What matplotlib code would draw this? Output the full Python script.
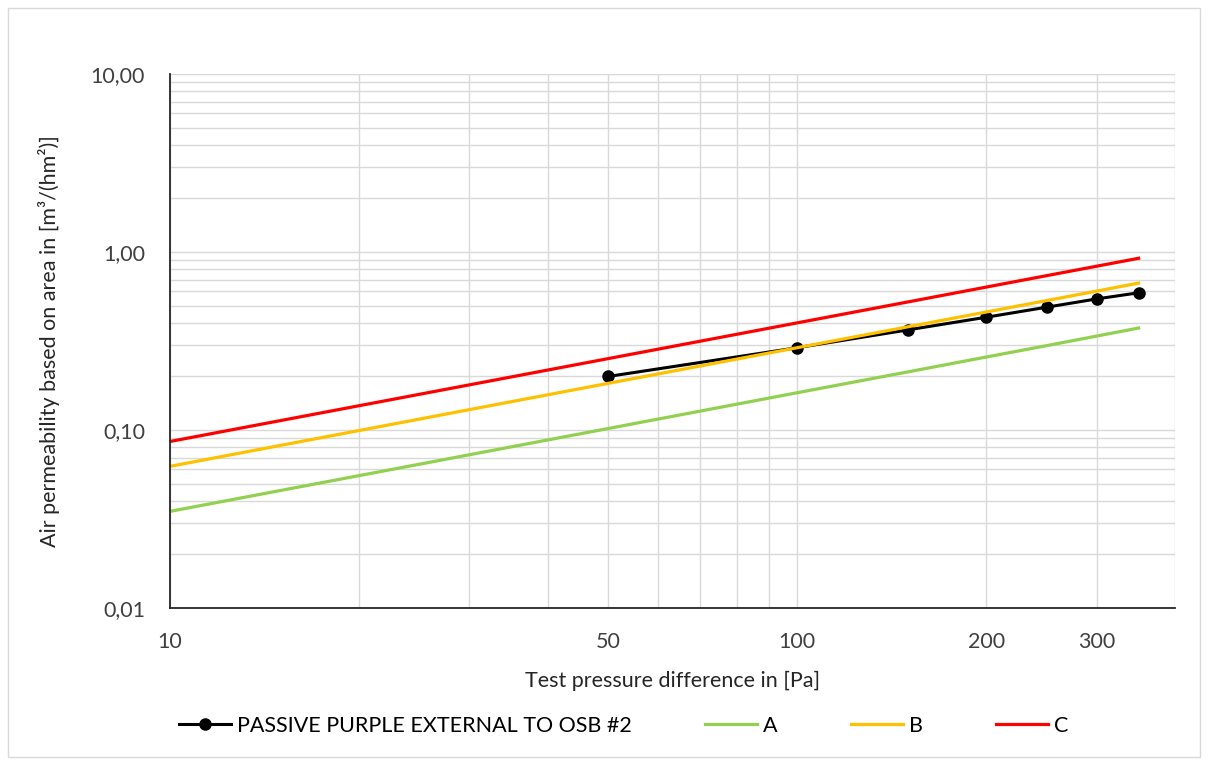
import matplotlib
matplotlib.use("Agg")
import matplotlib.pyplot as plt
from matplotlib.ticker import FixedLocator, FixedFormatter, LogLocator, NullFormatter
from matplotlib.patches import Rectangle

plt.rcParams["font.family"] = ["Lato", "DejaVu Sans"]

# measured sample
pressure = [50, 100, 150, 200, 250, 300, 350]
measured = [0.20, 0.29, 0.365, 0.43, 0.49, 0.545, 0.59]

# class limit lines
class_pressure = [10, 50, 100, 150, 200, 250, 300, 350]
class_a = [0.0349, 0.102, 0.162, 0.212, 0.257, 0.298, 0.337, 0.374]
class_b = [0.0625, 0.183, 0.29, 0.38, 0.46, 0.534, 0.603, 0.669]
class_c = [0.0862, 0.252, 0.40, 0.524, 0.635, 0.737, 0.832, 0.922]

x_ticks = [10, 50, 100, 200, 300]
x_labels = ["10", "50", "100", "200", "300"]
y_ticks = [0.01, 0.1, 1, 10]
y_labels = ["0,01", "0,10", "1,00", "10,00"]

fig = plt.figure(figsize=(12.08, 7.65), dpi=100)
ax = fig.add_axes([170 / 1208, 1 - 608 / 765, 1005 / 1208, 534 / 765])

ax.plot(pressure, measured, color="black", lw=2.2, marker="o", ms=8,
        label="PASSIVE PURPLE EXTERNAL TO OSB #2")
ax.plot(class_pressure, class_a, color="#92D050", lw=2.3, label="A")
ax.plot(class_pressure, class_b, color="#FFC000", lw=2.3, label="B")
ax.plot(class_pressure, class_c, color="#FF0000", lw=2.3, label="C")

ax.set_xscale("log")
ax.set_yscale("log")
ax.set_xlim(10, 400)
ax.set_ylim(0.01, 10)

ax.xaxis.set_major_locator(FixedLocator(x_ticks))
ax.xaxis.set_major_formatter(FixedFormatter(x_labels))
ax.xaxis.set_minor_locator(LogLocator(base=10, subs=range(1, 10)))
ax.xaxis.set_minor_formatter(NullFormatter())
ax.yaxis.set_major_locator(FixedLocator(y_ticks))
ax.yaxis.set_major_formatter(FixedFormatter(y_labels))
ax.yaxis.set_minor_locator(LogLocator(base=10, subs=range(2, 10)))
ax.yaxis.set_minor_formatter(NullFormatter())

ax.grid(True, which="both", color="#d9d9d9", lw=1)
ax.set_axisbelow(True)
ax.tick_params(which="both", length=0, labelsize=15.5, colors="#404040")
ax.tick_params(axis="y", pad=18)
ax.tick_params(axis="x", pad=17)
for s in ["top", "right"]:
    ax.spines[s].set_visible(False)
for s in ["left", "bottom"]:
    ax.spines[s].set_color("#262626")
    ax.spines[s].set_linewidth(1.3)

ax.set_xlabel("Test pressure difference in [Pa]", fontsize=15.5, color="#262626", labelpad=14)
ax.set_ylabel("Air permeability based on area in [m³/(hm²)]", fontsize=15.5, color="#262626", labelpad=22)

fig.legend(loc="center", bbox_to_anchor=(624 / 1208, 1 - 726 / 765), ncol=4, frameon=False,
           fontsize=15.5, handlelength=2.4, columnspacing=3.4, handletextpad=0.3)

fig.patches.append(Rectangle((8 / 1208, 8 / 765), 1192 / 1208, 749 / 765, transform=fig.transFigure,
                             fill=False, edgecolor="#d9d9d9", lw=1))

fig.savefig("out.png", dpi=100)
